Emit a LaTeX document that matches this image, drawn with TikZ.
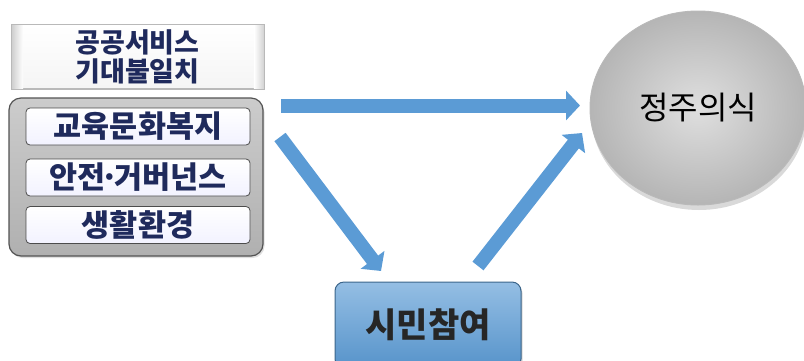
\documentclass[tikz,border=0pt]{standalone}
\usepackage{fontspec}
\setmainfont{Noto Sans CJK KR}
\usetikzlibrary{arrows.meta,shadows,shapes.geometric}
\definecolor{navy}{HTML}{1F2A5C}
\definecolor{arrowblue}{HTML}{5B9BD5}
\tikzset{
  hdr/.style={draw=gray!55, line width=0.8pt, top color=white, bottom color=gray!8,
    minimum width=252pt, minimum height=64pt, align=center, inner sep=0pt},
  hdrtext/.style={align=center, font=\bfseries\fontsize{27}{29}\selectfont, text=navy, inner sep=0pt},
  bevel/.style={draw=none},
  grp/.style={draw=gray!65!black, line width=1.2pt, rounded corners=12pt, top color=gray!40, bottom color=gray!62,
    minimum width=254pt, minimum height=158pt, drop shadow={opacity=0.25, shadow xshift=1.5pt, shadow yshift=-2pt}},
  item/.style={draw=gray!60!black, line width=0.8pt, rounded corners=4pt, top color=white, bottom color=blue!5,
    minimum width=224pt, minimum height=37pt, font=\bfseries\fontsize{30.5}{31}\selectfont, text=navy, inner sep=0pt},
  ball/.style={ellipse, draw=gray!55, line width=1pt, inner color=gray!25, outer color=gray!58,
    minimum width=216pt, minimum height=194pt, font=\fontsize{32}{34}\selectfont, text=black,
    drop shadow={opacity=0.3, shadow xshift=1pt, shadow yshift=-5pt}},
  cit/.style={draw=arrowblue!65!black, line width=1pt, rounded corners=9pt, top color=arrowblue!65, bottom color=arrowblue!95!black,
    minimum width=186pt, minimum height=86pt, font=\bfseries\fontsize{34}{36}\selectfont, text=black!85,
    drop shadow={opacity=0.3, shadow xshift=1.5pt, shadow yshift=-2pt}},
  fat/.style={draw=arrowblue, line width=14pt, -{Triangle[length=14pt,width=29pt]}}
}
\begin{document}
\begin{tikzpicture}[x=1pt,y=-1pt]
\useasboundingbox (0,0) rectangle (804,360);
\node[hdr] (hd) at (137.5,56.5) {};
\shade[bevel, left color=gray!40, right color=white] (hd.north west) rectangle ([xshift=12pt]hd.south west);
\shade[bevel, left color=white, right color=gray!35] ([xshift=-10pt]hd.north east) rectangle (hd.south east);
\draw[gray!55, line width=0.8pt] (hd.north west) rectangle (hd.south east);
\node[hdrtext] (hdt) at (hd.center) {공공서비스\\기대불일치};
\node[grp] (gp) at (136,177) {};
\node[item] (i1) at (138,126.5) {교육문화복지};
\node[item] (i2) at (138,177.5) {안전\kern-5pt·\kern-5pt거버넌스};
\node[item] (i3) at (138,225) {생활환경};
\node[ball] (jj) at (698,108) {정주의식};
\node[cit] (sm) at (428,325) {시민참여};
\coordinate (h1) at (281,105.5);
\coordinate (h2) at (580,105.5);
\coordinate (d1) at (280,137);
\coordinate (d2) at (381,271);
\coordinate (u1) at (478,266);
\coordinate (u2) at (582,133);
\draw[fat] (h1) -- (h2);
\draw[fat] (d1) -- (d2);
\draw[fat] (u1) -- (u2);
\end{tikzpicture}
\end{document}
